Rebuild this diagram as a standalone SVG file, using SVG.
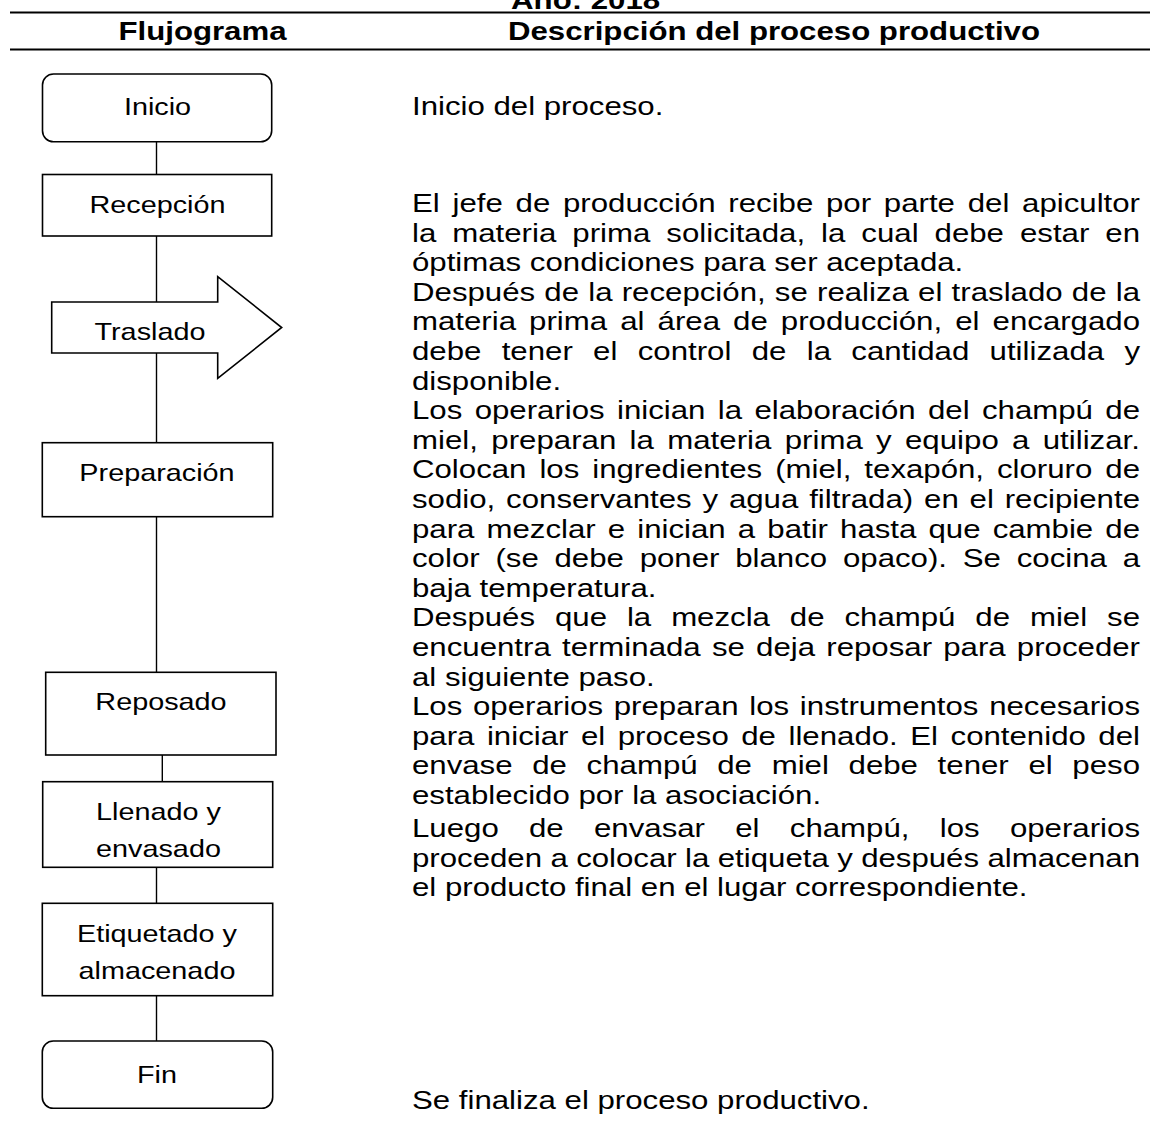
<svg xmlns="http://www.w3.org/2000/svg" width="1150" height="1128" viewBox="0 0 1150 1128">
<style>
.bg{fill:#fff}
.box{fill:#fff;stroke:#000;stroke-width:1.6}
.conn{stroke:#000;stroke-width:1.4;fill:none}
.rule{stroke:#000;stroke-width:2.2}
.hd{font-family:"Liberation Sans",Arial,sans-serif;font-weight:bold;font-size:26px;fill:#000;text-anchor:middle}
.nt{font-family:"Liberation Sans",Arial,sans-serif;font-size:24px;fill:#000;text-anchor:middle}
.dt{font-family:"Liberation Sans",Arial,sans-serif;font-size:26px;fill:#000}
</style>
<rect class="bg" x="0" y="0" width="1150" height="1128"/>
<g id="header">
<text class="hd" transform="scale(1.2,1)" x="488" y="9">Año: 2018</text>
<line class="rule" x1="10" y1="12.5" x2="1150" y2="12.5"/>
<text class="hd" transform="scale(1.2,1)" x="168.75" y="40">Flujograma</text>
<text class="hd" transform="scale(1.2,1)" x="645" y="40">Descripción del proceso productivo</text>
<line class="rule" x1="10" y1="49.5" x2="1150" y2="49.5"/>
</g>
<g id="connectors">
<line class="conn" x1="156.5" y1="142" x2="156.5" y2="174.5"/>
<line class="conn" x1="156.5" y1="236" x2="156.5" y2="302"/>
<line class="conn" x1="156.5" y1="353" x2="156.5" y2="442.7"/>
<line class="conn" x1="156.5" y1="516.7" x2="156.5" y2="672.3"/>
<line class="conn" x1="162.3" y1="755" x2="162.3" y2="781.7"/>
<line class="conn" x1="156.5" y1="867.3" x2="156.5" y2="903.3"/>
<line class="conn" x1="156.5" y1="995.7" x2="156.5" y2="1041"/>
</g>
<g id="n-inicio">
<rect class="box" x="42.5" y="74" width="229.2" height="67.8" rx="11"/>
<text class="nt" transform="scale(1.2,1)" x="131.25" y="115">Inicio</text>
</g>
<g id="n-recepcion">
<rect class="box" x="42.5" y="174.5" width="229.2" height="61.5"/>
<text class="nt" transform="scale(1.2,1)" x="131.25" y="213">Recepción</text>
</g>
<g id="n-traslado">
<polygon class="box" points="51.7,302 217.7,302 217.7,276.7 281.7,327.5 217.7,378.3 217.7,353 51.7,353"/>
<text class="nt" transform="scale(1.2,1)" x="125" y="340">Traslado</text>
</g>
<g id="n-preparacion">
<rect class="box" x="42.3" y="442.7" width="230.4" height="74"/>
<text class="nt" transform="scale(1.2,1)" x="130.83" y="481">Preparación</text>
</g>
<g id="n-reposado">
<rect class="box" x="45.7" y="672.3" width="230.3" height="82.7"/>
<text class="nt" transform="scale(1.2,1)" x="134.17" y="710">Reposado</text>
</g>
<g id="n-llenado">
<rect class="box" x="42.7" y="781.7" width="230" height="85.6"/>
<text class="nt" transform="scale(1.2,1)" x="132.08" y="820">Llenado y</text>
<text class="nt" transform="scale(1.2,1)" x="132.08" y="857">envasado</text>
</g>
<g id="n-etiquetado">
<rect class="box" x="42.3" y="903.3" width="230.4" height="92.4"/>
<text class="nt" transform="scale(1.2,1)" x="130.83" y="942">Etiquetado y</text>
<text class="nt" transform="scale(1.2,1)" x="130.83" y="979">almacenado</text>
</g>
<g id="n-fin">
<rect class="box" x="42.3" y="1041" width="230.4" height="67.3" rx="11"/>
<text class="nt" transform="scale(1.2,1)" x="130.83" y="1083">Fin</text>
</g>
<g id="description" transform="scale(1.2,1)">
<text class="dt" x="343.33" y="115">Inicio del proceso.</text>
<text class="dt" x="343.33" y="212" word-spacing="3.4" textLength="606.67" lengthAdjust="spacing">El jefe de producción recibe por parte del apicultor</text>
<text class="dt" x="343.33" y="241.6" word-spacing="6.1" textLength="606.67" lengthAdjust="spacing">la materia prima solicitada, la cual debe estar en</text>
<text class="dt" x="343.33" y="271.2">óptimas condiciones para ser aceptada.</text>
<text class="dt" x="343.33" y="300.8" word-spacing="0.4" textLength="606.67" lengthAdjust="spacing">Después de la recepción, se realiza el traslado de la</text>
<text class="dt" x="343.33" y="330.4" word-spacing="3.7" textLength="606.67" lengthAdjust="spacing">materia prima al área de producción, el encargado</text>
<text class="dt" x="343.33" y="360" word-spacing="9.7" textLength="606.67" lengthAdjust="spacing">debe tener el control de la cantidad utilizada y</text>
<text class="dt" x="343.33" y="389.6">disponible.</text>
<text class="dt" x="343.33" y="419.2" word-spacing="3.1" textLength="606.67" lengthAdjust="spacing">Los operarios inician la elaboración del champú de</text>
<text class="dt" x="343.33" y="448.8" word-spacing="3.8" textLength="606.67" lengthAdjust="spacing">miel, preparan la materia prima y equipo a utilizar.</text>
<text class="dt" x="343.33" y="478.4" word-spacing="3.6" textLength="606.67" lengthAdjust="spacing">Colocan los ingredientes (miel, texapón, cloruro de</text>
<text class="dt" x="343.33" y="508" word-spacing="1.8" textLength="606.67" lengthAdjust="spacing">sodio, conservantes y agua filtrada) en el recipiente</text>
<text class="dt" x="343.33" y="537.6" word-spacing="2.9" textLength="606.67" lengthAdjust="spacing">para mezclar e inician a batir hasta que cambie de</text>
<text class="dt" x="343.33" y="567.2" word-spacing="5.9" textLength="606.67" lengthAdjust="spacing">color (se debe poner blanco opaco). Se cocina a</text>
<text class="dt" x="343.33" y="596.8">baja temperatura.</text>
<text class="dt" x="343.33" y="626.4" word-spacing="9.4" textLength="606.67" lengthAdjust="spacing">Después que la mezcla de champú de miel se</text>
<text class="dt" x="343.33" y="656" word-spacing="2.1" textLength="606.67" lengthAdjust="spacing">encuentra terminada se deja reposar para proceder</text>
<text class="dt" x="343.33" y="685.6">al siguiente paso.</text>
<text class="dt" x="343.33" y="715.2" word-spacing="1.7" textLength="606.67" lengthAdjust="spacing">Los operarios preparan los instrumentos necesarios</text>
<text class="dt" x="343.33" y="744.8" word-spacing="3.2" textLength="606.67" lengthAdjust="spacing">para iniciar el proceso de llenado. El contenido del</text>
<text class="dt" x="343.33" y="774.4" word-spacing="9.2" textLength="606.67" lengthAdjust="spacing">envase de champú de miel debe tener el peso</text>
<text class="dt" x="343.33" y="804">establecido por la asociación.</text>
<text class="dt" x="343.33" y="837" word-spacing="18" textLength="606.67" lengthAdjust="spacing">Luego de envasar el champú, los operarios</text>
<text class="dt" x="343.33" y="866.6" word-spacing="-0.2" textLength="606.67" lengthAdjust="spacing">proceden a colocar la etiqueta y después almacenan</text>
<text class="dt" x="343.33" y="896.2">el producto final en el lugar correspondiente.</text>
<text class="dt" x="343.33" y="1109">Se finaliza el proceso productivo.</text>
</g>
</svg>
